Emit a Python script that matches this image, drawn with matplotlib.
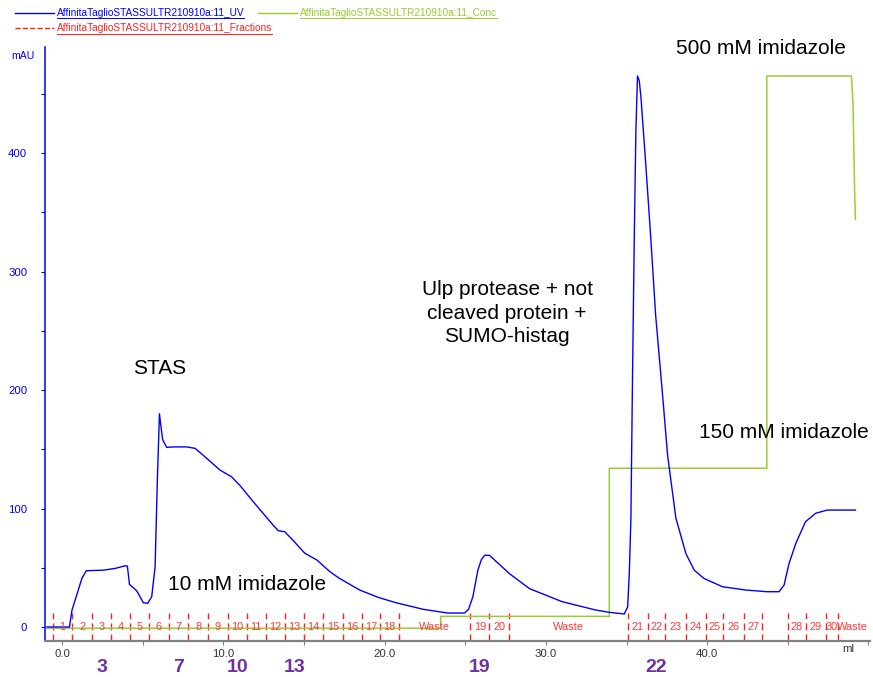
#!/usr/bin/env python3
"""Chromatogram plot: UV trace, conc step gradient and collected fractions."""

import matplotlib
matplotlib.use("Agg")
import matplotlib.pyplot as plt
import matplotlib.transforms as mtransforms
from matplotlib.lines import Line2D

plt.rcParams["font.family"] = ["Liberation Sans", "DejaVu Sans"]

# --- data (ml, mAU) ---
uv_ml = [-0.95, 0.45, 0.6, 1.22, 1.49, 2.56, 3.3, 3.9, 4.04, 4.17, 4.62, 5.03, 5.3,
         5.55, 5.76, 5.9, 6.03, 6.1, 6.23, 6.48, 6.89, 7.72, 8.24, 8.85, 9.78, 10.5,
         11.0, 11.85, 13.08, 13.4, 13.8, 14.3, 15.05, 15.8, 16.6, 17.2, 18.45, 19.6,
         20.7, 22.4, 23.9, 24.95, 25.2, 25.47, 25.78, 26.0, 26.2, 26.5, 27.74, 28.98,
         31.0, 33.1, 33.93, 34.86, 35.07, 35.17, 35.27, 35.37, 35.48, 35.58, 35.68,
         35.79, 35.9, 36.2, 36.5, 36.8, 37.24, 37.55, 38.06, 38.68, 39.2, 39.8, 40.95,
         42.4, 43.7, 44.46, 44.77, 45.08, 45.5, 46.1, 46.73, 47.45, 49.2]
uv_mau = [0, 0, 14, 41, 47.5, 48, 49.5, 51.7, 51.4, 36, 30.6, 20.5, 20,
          25.6, 50.9, 124, 180, 172, 158, 151.6, 152, 152, 150.8, 143.7, 132.5, 126.8,
          119.8, 105.7, 86, 81.3, 80.4, 73.4, 62.2, 56.5, 46.7, 41, 31.2, 25,
          20.5, 14.9, 11.8, 11.8, 14.9, 25.6, 48, 57, 60.5, 60.5, 45, 32.4,
          21.4, 14.3, 12.4, 11, 17, 45, 91, 210, 329, 419, 465,
          461, 446, 389, 329, 264, 195, 144.5, 92, 62, 48, 41, 34,
          31.2, 29.8, 29.8, 35.4, 53.7, 70.6, 88.9, 96, 98.7, 98.7]

conc_ml = [-0.95, 23.47, 23.47, 33.93, 33.93, 43.7, 43.7, 48.95, 49.05, 49.1, 49.15, 49.2]
conc_val = [-1, -1, 9, 9, 134, 134, 465, 465, 440, 402, 366, 344]

frac_bounds = [-0.58, 0.6, 1.87, 3.03, 4.21, 5.4, 6.6, 7.8, 9.06, 10.26, 11.43, 12.63,
               13.8, 15.0, 16.2, 17.4, 18.6, 19.7, 20.9, 25.3, 26.5, 27.7, 35.1, 36.3,
               37.4, 38.7, 39.9, 41.0, 42.3, 43.4, 45.0, 46.1, 47.4, 48.1, 49.9]
frac_labels = [str(i) for i in range(1, 19)] + ["Waste", "19", "20", "Waste"] + \
              [str(i) for i in range(21, 28)] + ["", "28", "29", "30", "Waste"]

picked = ["3", "7", "10", "13", "19", "22"]

notes = [
    ("STAS", 6.07, 218),
    ("10 mM imidazole", 11.45, 36),
    ("Ulp protease + not\ncleaved protein +\nSUMO-histag", 27.6, 265),
    ("500 mM imidazole", 43.34, 488),
    ("150 mM imidazole", 44.77, 164),
]

legend_entries = [
    ("AffinitaTaglioSTASSULTR210910a:11_UV", "#0000ff", "-"),
    ("AffinitaTaglioSTASSULTR210910a:11_Conc", "#9acd32", "-"),
    ("AffinitaTaglioSTASSULTR210910a:11_Fractions", "#ff2020", "--"),
]

UV_COL = "#0000ff"
CONC_COL = "#9acd32"
FRAC_COL = "#ff2020"
PURPLE = "#7030a0"

W, H = 873, 677
fig = plt.figure(figsize=(W / 100, H / 100), dpi=100)
ax = fig.add_axes([45.3 / W, 36 / H, 824.7 / W, 594 / H])
ax.set_xlim(-1.05, 50.1)
ax.set_ylim(-11.8, 489.5)

# traces
ax.plot(conc_ml, conc_val, color=CONC_COL, linewidth=1.1, zorder=2)
ax.plot(uv_ml, uv_mau, color=UV_COL, linewidth=1.0, zorder=3)

# fractions
ax.vlines(frac_bounds[:-1], -11.8, 12, colors=FRAC_COL, linewidth=1.0,
          linestyles=(0, (5, 3)), zorder=1)
for lo, hi, lab in zip(frac_bounds[:-1], frac_bounds[1:], frac_labels):
    if lab:
        ax.text((lo + hi) / 2, 0, lab, color="#ff3a3a", fontsize=7.9,
                ha="center", va="center", zorder=4)

# annotations
for txt, x, y in notes:
    ax.text(x, y, txt, fontsize=15, ha="center", va="center", color="black",
            linespacing=1.28, clip_on=False)

trans = mtransforms.blended_transform_factory(ax.transData, ax.transAxes)
for lab in picked:
    i = frac_labels.index(lab)
    ax.text((frac_bounds[i] + frac_bounds[i + 1]) / 2, -0.0445, lab, transform=trans,
            fontsize=14, fontweight="bold", color=PURPLE, ha="center", va="center")

# axes styling
for side in ("top", "right"):
    ax.spines[side].set_visible(False)
ax.spines["left"].set_color(UV_COL)
ax.spines["left"].set_linewidth(1.1)
ax.spines["bottom"].set_color("#808080")
ax.spines["bottom"].set_linewidth(1.6)

ax.set_yticks([0, 100, 200, 300, 400])
ax.set_yticks(range(50, 451, 100), minor=True)
ax.tick_params(axis="y", which="both", colors=UV_COL, length=3, width=0.8,
               labelsize=8.2, pad=10)
ax.set_xticks([0, 10, 20, 30, 40, 50])
ax.set_xticklabels(["0.0", "10.0", "20.0", "30.0", "40.0", ""])
ax.set_xticks(range(5, 50, 10), minor=True)
ax.tick_params(axis="x", which="both", colors="#808080", length=3, width=0.8,
               labelsize=8.2, labelcolor="#333333", pad=3)
ax.text(48.75, -0.005, "ml", transform=trans, fontsize=8.2, color="#333333",
        ha="center", va="top")
ax.text(-0.0125, 0.985, "mAU", transform=ax.transAxes, fontsize=7.6, color=UV_COL,
        ha="right", va="center")

# legend-like header with underlined names
spots = [(15, 12.5), (258, 12.5), (15, 28)]
texts = []
for (name, col, ls), (x0, y0) in zip(legend_entries, spots):
    fig.add_artist(Line2D([x0 / W, (x0 + 39) / W], [1 - y0 / H, 1 - y0 / H],
                          color=col, linestyle=ls, linewidth=1.0))
    t = fig.text((x0 + 41.5) / W, 1 - y0 / H, name, color=col, fontsize=7.3,
                 ha="left", va="center")
    texts.append((t, col))

fig.canvas.draw()
r = fig.canvas.get_renderer()
for t, col in texts:
    bb = t.get_window_extent(r)
    yy = (bb.y0 - 0.5) / H
    fig.add_artist(Line2D([bb.x0 / W, bb.x1 / W], [yy, yy], color=col, linewidth=0.7))

fig.savefig("out.png", dpi=100)
